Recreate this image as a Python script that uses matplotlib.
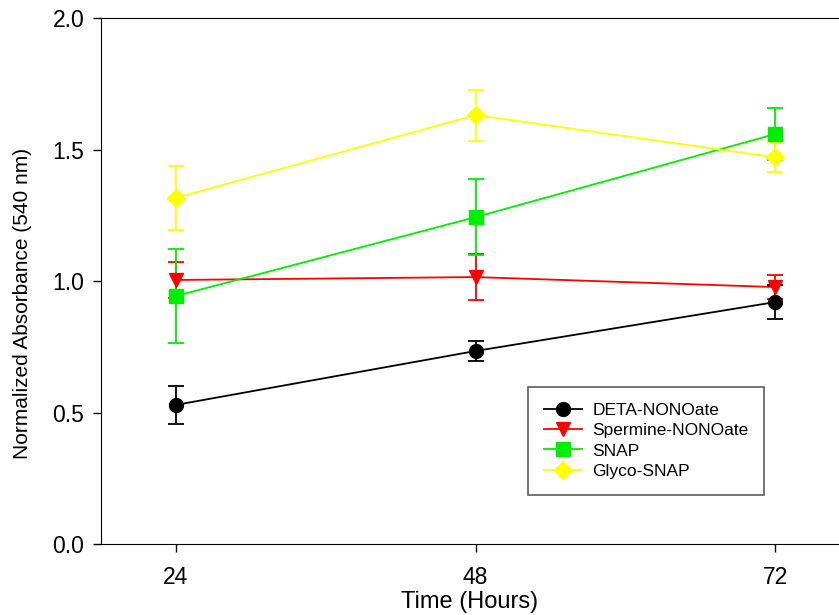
import matplotlib
matplotlib.use("Agg")
import matplotlib.pyplot as plt

plt.rcParams["font.family"] = ["Liberation Sans", "DejaVu Sans"]

hours = [24, 48, 72]

deta      = [0.529, 0.734, 0.920]
deta_err  = [0.072, 0.037, 0.065]
sperm     = [1.004, 1.015, 0.977]
sperm_err = [0.068, 0.087, 0.045]
snap      = [0.943, 1.243, 1.559]
snap_err  = [0.180, 0.145, 0.100]
glyco     = [1.316, 1.631, 1.470]
glyco_err = [0.123, 0.097, 0.057]

series = [
    ("DETA-NONOate",     deta,  deta_err,  "black",   "o"),
    ("Spermine-NONOate", sperm, sperm_err, "#ff0000", "v"),
    ("SNAP",             snap,  snap_err,  "#00ee00", "s"),
    ("Glyco-SNAP",       glyco, glyco_err, "#ffff00", "D"),
]

fig = plt.figure(figsize=(8.39, 6.15), dpi=100)
ax = fig.add_axes([0.1204, 0.1154, 0.8796, 0.8553])

handles = []
for name, vals, errs, col, mk in series:
    ms = 9 if mk == "D" else 10
    cont = ax.errorbar(hours, vals, yerr=errs, color=col, marker=mk, markersize=ms,
                       linewidth=1.3, elinewidth=1.3, capsize=6, capthick=1.3,
                       label=name)
    handles.append(cont.lines[0])

ax.set_xlim(18, 77.1)
ax.set_ylim(0, 2.0)
ax.set_xticks(hours)
ax.set_yticks([0.0, 0.5, 1.0, 1.5, 2.0])
ax.set_yticklabels(["0.0", "0.5", "1.0", "1.5", "2.0"])
ax.tick_params(direction="out", length=6, labelsize=16.5, width=1, pad=6)
ax.tick_params(axis="x", pad=10)
ax.spines["right"].set_visible(False)
ax.set_xlabel("Time (Hours)", fontsize=17, labelpad=1)
ax.set_ylabel("Normalized Absorbance (540 nm)", fontsize=15)
ax.yaxis.set_label_coords(-0.094, 0.458)

leg = ax.legend(handles, [s[0] for s in series], loc="upper left",
                bbox_to_anchor=(0.5786, 0.2985), borderaxespad=0,
                fontsize=12.5, frameon=True, fancybox=False, edgecolor="#333333",
                handlelength=2.2, handletextpad=0.6, borderpad=0.9,
                labelspacing=0.3)
leg.get_frame().set_linewidth(1.2)

fig.savefig("out.png", dpi=100)
